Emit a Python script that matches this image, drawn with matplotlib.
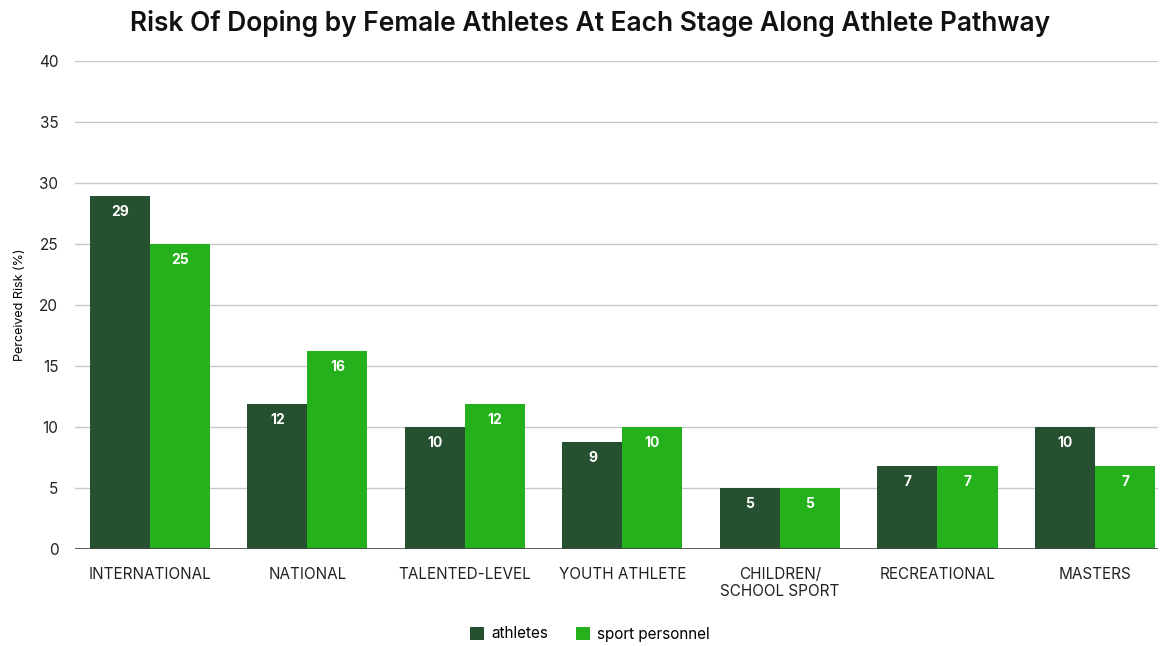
import numpy as np
import matplotlib.pyplot as plt

plt.rcParams['font.family'] = ['Inter', 'DejaVu Sans']

categories = ['INTERNATIONAL', 'NATIONAL', 'TALENTED-LEVEL', 'YOUTH ATHLETE',
              'CHILDREN/\nSCHOOL SPORT', 'RECREATIONAL', 'MASTERS']
athletes = [28.9, 11.9, 10.0, 8.75, 5.0, 6.8, 10.0]
personnel = [25.0, 16.2, 11.9, 10.0, 5.0, 6.8, 6.8]
athlete_labels = [29, 12, 10, 9, 5, 7, 10]
personnel_labels = [25, 16, 12, 10, 5, 7, 7]

dark = '#265131'
bright = '#25b11b'

fig = plt.figure(figsize=(11.6, 6.46), dpi=100)
ax = fig.add_axes([75 / 1160, 1 - 549 / 646, (1158 - 75) / 1160, (549 - 61) / 646])

x = np.arange(len(categories))
w = 0.381
b1 = ax.bar(x - w / 2, athletes, w, color=dark, label='athletes', zorder=3)
b2 = ax.bar(x + w / 2, personnel, w, color=bright, label='sport personnel', zorder=3)

for bars, labs in [(b1, athlete_labels), (b2, personnel_labels)]:
    for r, lab in zip(bars, labs):
        ax.annotate(str(lab), (r.get_x() + r.get_width() / 2, r.get_height()),
                    xytext=(0, -11.5), textcoords='offset points', ha='center', va='center',
                    color='white', fontsize=10, fontweight='bold', zorder=4)

ax.set_ylim(0, 40)
ax.set_xlim(-0.476, 6.4)
ax.set_yticks(range(0, 41, 5))
ax.yaxis.grid(True, color='#c8c8c8', linewidth=1, zorder=0)
ax.axhline(0, color='#444444', linewidth=1.2, zorder=5)
for s in ax.spines.values():
    s.set_visible(False)
ax.tick_params(axis='both', length=0, labelsize=11, colors='#222222')
ax.tick_params(axis='y', pad=12)
ax.tick_params(axis='x', pad=13)
ax.set_xticks(x)
ax.set_xticklabels(categories, linespacing=1.2, va='top')
ax.set_ylabel('Perceived Risk (%)', fontsize=9, labelpad=9)

fig.suptitle('Risk Of Doping by Female Athletes At Each Stage Along Athlete Pathway',
             x=590 / 1160, y=0.985, fontsize=19, fontweight='semibold', color='#111111')

ax.legend(loc='center', bbox_to_anchor=(590 / 1160, 12 / 646), bbox_transform=fig.transFigure,
          ncol=2, frameon=False, fontsize=11, handlelength=0.9, handleheight=0.9,
          handletextpad=0.5, columnspacing=1.8)

fig.savefig('out.png', dpi=100)
